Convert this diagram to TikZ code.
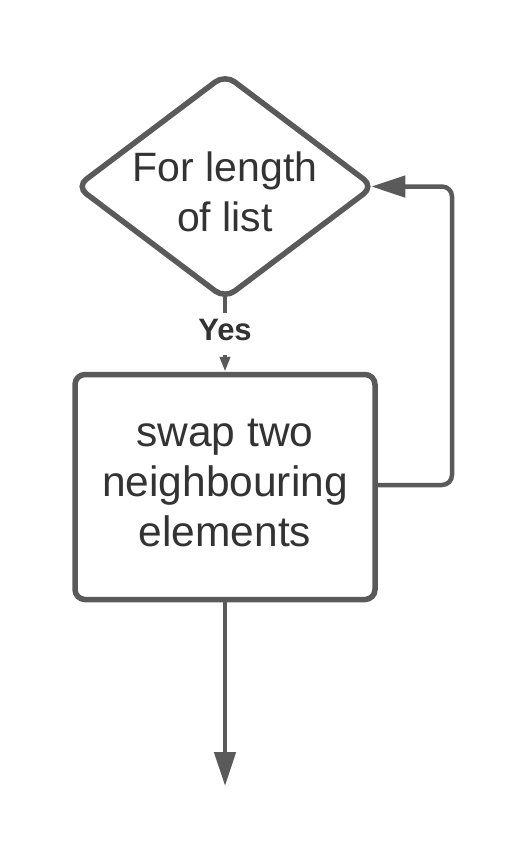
\documentclass[tikz,border=0pt]{standalone}
\usepackage{fontspec}
\setmainfont{Liberation Sans}
\usetikzlibrary{shapes.geometric,arrows.meta,backgrounds}
\definecolor{linegray}{RGB}{90,90,90}
\definecolor{textgray}{RGB}{51,51,51}
\begin{document}
\begin{tikzpicture}[x=1pt,y=-1pt,
  shapeline/.style={draw=linegray,line width=5.5pt},
  decision/.style={shapeline,diamond,minimum width=299pt,minimum height=226pt,inner sep=0pt,rounded corners=12pt,fill=white},
  process/.style={shapeline,rectangle,minimum width=300pt,minimum height=225pt,inner sep=0pt,rounded corners=10pt,fill=white},
  bigtxt/.style={text=textgray,align=center,inner sep=0pt},
  conn/.style={draw=linegray,line width=4.5pt},
  bigtip/.style={-{Triangle[length=34pt,width=21pt]}},
  smalltip/.style={-{Triangle[length=15pt,width=10pt]}},
  yeslabel/.style={fill=white,text=textgray,font=\fontsize{31}{36}\selectfont\bfseries,text height=22.2pt,text depth=8.8pt,inner xsep=4pt,inner ysep=5.5pt}
]
\useasboundingbox (0,0) rectangle (529,857);
\node[decision] (dia) at (225,186.5) {};
\node[bigtxt,font=\fontsize{41}{50}\selectfont] (diatext) at (225,192) {For length\\of list};
\node[process] (box) at (225,487) {};
\node[bigtxt,font=\fontsize{42.5}{50}\selectfont] (boxtext) at (225,482.5) {swap two\\neighbouring\\elements};
\coordinate (loopx) at (452,0);
\coordinate (loopin) at ([xshift=-6pt]dia.east);
\coordinate (finish) at (225,786);
\begin{pgfonlayer}{background}
\draw[conn,smalltip] (dia.center) -- (box.north);
\end{pgfonlayer}
\node[yeslabel] (yes) at (225,334) {Yes};
\draw[conn,bigtip,rounded corners=10pt] ([yshift=2pt]box.east) -| (loopx |- loopin) -- (loopin);
\draw[conn,bigtip] (box.south) -- (finish);
\end{tikzpicture}
\end{document}
